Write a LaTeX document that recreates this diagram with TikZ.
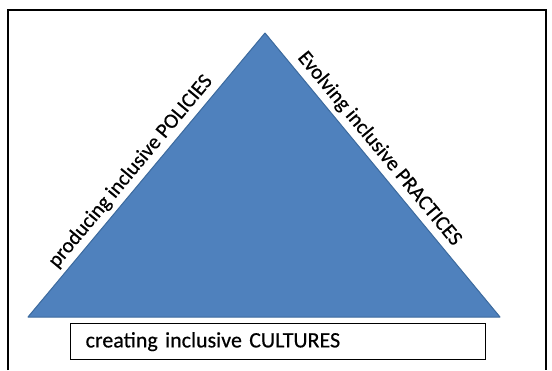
\documentclass[tikz,border=0pt]{standalone}
\usepackage{fontspec}
\setmainfont{Carlito}[FakeBold=0.5]
\definecolor{triblue}{HTML}{4F81BD}
\definecolor{triedge}{HTML}{3C6A9E}
\begin{document}
\begin{tikzpicture}[x=1pt, y=-1pt,
	lbl/.style={font=\fontsize{22}{26}\selectfont, inner sep=1pt},
	side/.style={lbl, font=\fontsize{21}{25}\selectfont, sloped, above, yshift=4pt}]
	\useasboundingbox (0,0) rectangle (552,370);
	\draw [line width=1.3pt] (8,370)--(8,10)--(546,10)--(546,370);
	\coordinate (L) at (28,317);
	\coordinate (T) at (265,33);
	\coordinate (R) at (500,317);
	\filldraw [fill=triblue, draw=triedge, line width=1pt, line join=round] (L)--(T)--(R)--cycle;
	\path (L)--(T) node[side, pos=0.48] (pol) {producing inclusive POLICIES};
	\path (T)--(R) node[side, pos=0.44] (pra) {Evolving inclusive PRACTICES};
	\node [lbl, draw, line width=1.3pt, anchor=north west, minimum width=415pt, minimum height=36pt,
		text width=385pt, inner xsep=15pt, align=left] (cul) at (70,323) {creating inclusive CULTURES};
\end{tikzpicture}
\end{document}
